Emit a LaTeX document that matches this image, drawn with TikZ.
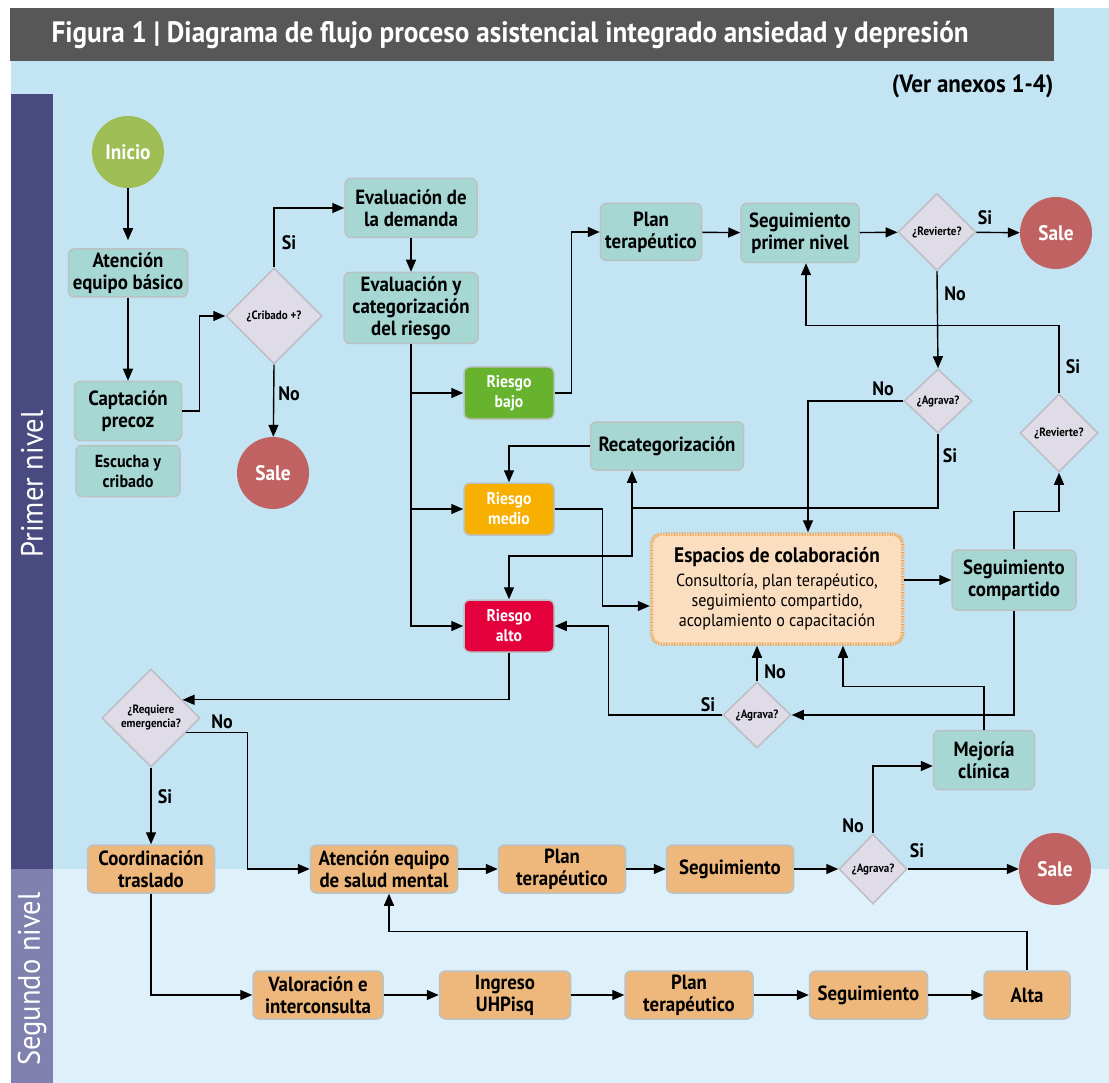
\documentclass[tikz,border=0pt]{standalone}
\usepackage{fontspec}
\setmainfont{PT Sans}[FakeStretch=0.92]
\usetikzlibrary{shapes.geometric}
\usetikzlibrary{positioning}
\usetikzlibrary{arrows.meta}

\definecolor{tealfill}{HTML}{A6D7D3}
\definecolor{tanfill}{HTML}{EEB87C}
\definecolor{boxline}{HTML}{BAC2C3}
\definecolor{diamfill}{HTML}{DFDCE8}
\definecolor{diamline}{HTML}{BDBDC3}
\definecolor{salefill}{HTML}{C06262}
\definecolor{iniciofill}{HTML}{9EBD55}
\definecolor{bajofill}{HTML}{67B32E}
\definecolor{mediofill}{HTML}{F8B000}
\definecolor{altofill}{HTML}{E4003A}
\definecolor{bgtop}{HTML}{C2E4F3}
\definecolor{bgbot}{HTML}{DEF0FA}
\definecolor{laneone}{HTML}{484A80}
\definecolor{lanetwo}{HTML}{8081AE}
\definecolor{titlebar}{HTML}{575757}
\definecolor{espfill}{HTML}{FBDDBF}
\definecolor{espline}{HTML}{F3A24C}

\newcommand{\boxfont}{\bfseries\fontsize{20.5}{22}\selectfont}
\newcommand{\riskfont}{\bfseries\fontsize{17}{20}\selectfont}
\newcommand{\decfont}{\bfseries\fontsize{12}{14}\selectfont}
\newcommand{\lblfont}{\bfseries\fontsize{19.5}{20}\selectfont}
\newcommand{\lanefont}{\fontsize{31}{32}\selectfont}

\tikzset{%
    base/.style={rectangle, rounded corners=6pt, draw=boxline, line width=1.5pt, align=center, font=\boxfont, inner sep=2pt},
    tealbox/.style={base, fill=tealfill},
    tanbox/.style={base, fill=tanfill},
    riskbox/.style={base, font=\riskfont, text=white, minimum width=90pt, minimum height=52pt},
    decision/.style={diamond, aspect=1, draw=diamline, line width=1.5pt, fill=diamfill, align=center, font=\decfont, inner sep=0pt},
    terminal/.style={circle, minimum size=72pt, text=white, font=\bfseries\fontsize{21}{22}\selectfont, inner sep=0pt},
    espacios/.style={rectangle, rounded corners=10pt, fill=espfill, draw=espline, line width=3.5pt, dash pattern=on 0.7pt off 0.9pt, align=center, font=\fontsize{17.5}{20}\selectfont},
    arrow/.style={draw, line width=1.4pt, -{Triangle[length=12pt,width=10pt]}},
    lbl/.style={font=\lblfont, inner sep=0pt}
}

\begin{document}
\begin{tikzpicture}[x=1pt,y=-1pt]
    \useasboundingbox (0,0) rectangle (1109,1083);

    % fondo y carriles
    \fill[bgtop] (11,8) rectangle (1109,869);
    \fill[bgbot] (11,869) rectangle (1109,1083);
    \fill[titlebar] (10,8) rectangle (1054,61);
    \fill[laneone] (11,94) rectangle (53,869);
    \fill[lanetwo] (11,869) rectangle (53,1083);

    \node[anchor=west, text=white, font=\bfseries\fontsize{29.5}{30}\selectfont] (titulo) at (48,35)
        {Figura 1 | Diagrama de flujo proceso asistencial integrado ansiedad y depresión};
    \node[anchor=east, font=\bfseries\fontsize{25}{26}\selectfont] (anexos) at (1057,86) {(Ver anexos 1-4)};
    \node[rotate=90, text=white, font=\lanefont] (nivelA) at (32,484) {Primer nivel};
    \node[rotate=90, text=white, font=\lanefont] (nivelB) at (32,979) {Segundo nivel};

    % primer nivel
    \node[terminal, fill=iniciofill]                                      (inicio)    at (128,152)  {Inicio};
    \node[tealbox, minimum width=119pt, minimum height=48pt]               (atencion)  at (128,273)  {Atención\\equipo básico};
    \node[tealbox, minimum width=107pt, minimum height=59pt]               (captacion) at (128,411)  {Captación\\precoz};
    \node[tealbox, minimum width=104pt, minimum height=51pt, font=\bfseries\fontsize{17.5}{20}\selectfont]
                                                                          (escucha)   at (128,471)  {Escucha y\\cribado};
    \node[decision, minimum width=96pt, minimum height=96pt]               (cribado)   at (274,316)  {¿Cribado +?};
    \node[terminal, fill=salefill]                                        (saleA)     at (273,473)  {Sale};
    \node[tealbox, minimum width=132pt, minimum height=59pt]               (demanda)   at (411,208)  {Evaluación de\\la demanda};
    \node[tealbox, minimum width=134pt, minimum height=71pt]               (categoria) at (411,308)  {Evaluación y\\categorización\\del riesgo};
    \node[riskbox, fill=bajofill]                                         (bajo)      at (509,393)  {Riesgo\\bajo};
    \node[riskbox, fill=mediofill]                                        (medio)     at (509,509)  {Riesgo\\medio};
    \node[riskbox, fill=altofill]                                         (alto)      at (509,626)  {Riesgo\\alto};
    \node[tealbox, minimum width=101pt, minimum height=57pt]               (planA)     at (651,232)  {Plan\\terapéutico};
    \node[tealbox, minimum width=118pt, minimum height=59pt]               (seguirA)   at (800,233)  {Seguimiento\\primer nivel};
    \node[decision, minimum width=78pt, minimum height=77pt]               (revierteA) at (937,232)  {¿Revierte?};
    \node[terminal, fill=salefill]                                        (saleB)     at (1056,233) {Sale};
    \node[decision, minimum width=68pt, minimum height=64pt]               (agravaA)   at (938,401)  {¿Agrava?};
    \node[decision, minimum width=78pt, minimum height=78pt]               (revierteB) at (1059,433) {¿Revierte?};
    \node[tealbox, minimum width=153pt, minimum height=48pt]               (recat)     at (667,446)  {Recategorización};
    \node[espacios, minimum width=251pt, minimum height=110pt]             (espacios)  at (777,589)
        {{\bfseries\fontsize{21}{22}\selectfont Espacios de colaboración}\\[4pt]
         Consultoría, plan terapéutico,\\seguimiento compartido,\\acoplamiento o capacitación};
    \node[tealbox, minimum width=124pt, minimum height=60pt]               (compartido) at (1014,580) {Seguimiento\\compartido};
    \node[decision, minimum width=68pt, minimum height=66pt]               (agravaB)   at (757,715)  {¿Agrava?};
    \node[tealbox, minimum width=101pt, minimum height=59pt]               (mejoria)   at (984,760)  {Mejoría\\clínica};
    \node[decision, minimum width=98pt, minimum height=98pt]               (urgencia)  at (151,718)  {¿Requiere\\emergencia?};

    % segundo nivel
    \node[tanbox, minimum width=127pt, minimum height=48pt]                (traslado)  at (151,869)  {Coordinación\\traslado};
    \node[tanbox, minimum width=147pt, minimum height=48pt]                (saludm)    at (384,869)  {Atención equipo\\de salud mental};
    \node[tanbox, minimum width=127pt, minimum height=48pt]                (planB)     [right=39.5pt of saludm] {Plan\\terapéutico};
    \node[tanbox, minimum width=127pt, minimum height=48pt]                (seguirB)   [right=39.5pt of planB]  {Seguimiento};
    \node[decision, minimum width=68pt, minimum height=70pt]               (agravaC)   at (873,869)  {¿Agrava?};
    \node[terminal, fill=salefill]                                        (saleC)     at (1055,869) {Sale};
    \node[tanbox, minimum width=130pt, minimum height=48pt]                (valora)    at (318,995)  {Valoración e\\interconsulta};
    \node[tanbox, minimum width=131pt, minimum height=48pt]                (ingreso)   [right=55pt of valora]  {Ingreso\\UHPisq};
    \node[tanbox, minimum width=128pt, minimum height=48pt]                (planC)     [right=53pt of ingreso] {Plan\\terapéutico};
    \node[tanbox, minimum width=118pt, minimum height=48pt]                (seguirC)   [right=55pt of planC]   {Seguimiento};
    \node[tanbox, minimum width=86pt, minimum height=48pt]                 (alta)      [right=55pt of seguirC] {Alta};

    % conectores
    \draw[arrow, shorten >=8pt] (inicio) -- (atencion);
    \draw[arrow] (atencion) -- (captacion);
    \draw[arrow] (captacion.east) -- ++(17,0) |- (cribado.west);
    \draw[arrow] (cribado.north) |- (demanda.west);
    \draw[arrow] (cribado.south) -- (saleA);
    \draw[arrow] (demanda) -- (categoria);
    \draw[arrow] (categoria.south) |- (alto.west);
    \draw[arrow] (categoria.south |- bajo.west) -- (bajo.west);
    \draw[arrow] (categoria.south |- medio.west) -- (medio.west);
    \draw[arrow] (bajo.east) -- ++(17,0) |- (planA.west);
    \draw[arrow] (planA) -- (seguirA);
    \draw[arrow] (seguirA) -- (revierteA);
    \draw[arrow] (revierteA) -- (saleB);
    \draw[arrow] (revierteA.south) -- (agravaA.north);
    \draw[arrow] (agravaA.west) -| ([xshift=31pt]espacios.north);
    \coordinate (cruce) at (632,508);
    \draw[arrow] (agravaA.south) |- (cruce) -- (cruce |- recat.south);
    \draw[arrow] (cruce) -- ++(0,48) -| (alto.north);
    \draw[arrow] (recat.west) -| (medio.north);
    \draw[arrow] (medio.east) -- ++(48,0) |- ([yshift=-17pt]espacios.west);
    \draw[arrow] (espacios.east |- compartido) -- (compartido.west);
    \draw[arrow] (compartido.north) -- ++(0,-38) -| (revierteB.south);
    \draw[arrow] (revierteB.north) -- ++(0,-68) -| ([xshift=6pt]seguirA.south);
    \draw[arrow] (compartido.south) |- (agravaB.east);
    \draw[arrow] (agravaB.north) -- (agravaB.north |- espacios.south);
    \draw[arrow] (agravaB.west) -- ++(-114,0) |- (alto.east);
    \draw[arrow] (mejoria.north) -- ++(0,-43) -| ([xshift=66pt]espacios.south);
    \draw[arrow] (alto.south) |- (urgencia.30);
    \draw[arrow] (urgencia.-22) -- ++(61,0) |- (saludm.west);
    \draw[arrow] (urgencia.south) -- (traslado.north);
    \draw[arrow] (traslado.south) |- (valora.west);
    \draw[arrow] (valora) -- (ingreso);
    \draw[arrow] (ingreso) -- (planC);
    \draw[arrow] (planC) -- (seguirC);
    \draw[arrow] (seguirC) -- (alta);
    \draw[arrow] (alta.north) -- ++(0,-39) -| ([xshift=5pt]saludm.south);
    \draw[arrow] (saludm) -- (planB);
    \draw[arrow] (planB) -- (seguirB);
    \draw[arrow] (seguirB) -- (agravaC);
    \draw[arrow] (agravaC) -- (saleC);
    \draw[arrow] (agravaC.north) |- ([yshift=-6pt]mejoria.west);

    % etiquetas
    \node[lbl] (siCrib)  at (289,243)  {Si};
    \node[lbl] (noCrib)  at (289,394)  {No};
    \node[lbl] (siRevA)  at (985,218)  {Si};
    \node[lbl] (noRevA)  at (955,294)  {No};
    \node[lbl] (noAgrA)  at (883,389)  {No};
    \node[lbl] (siAgrA)  at (950,456)  {Si};
    \node[lbl] (siRevB)  at (1073,367) {Si};
    \node[lbl] (noAgrB)  at (775,672)  {No};
    \node[lbl] (siAgrB)  at (708,705)  {Si};
    \node[lbl] (noUrg)   at (222,722)  {No};
    \node[lbl] (siUrg)   at (165,797)  {Si};
    \node[lbl] (noAgrC)  at (853,826)  {No};
    \node[lbl] (siAgrC)  at (917,851)  {Si};
\end{tikzpicture}
\end{document}
